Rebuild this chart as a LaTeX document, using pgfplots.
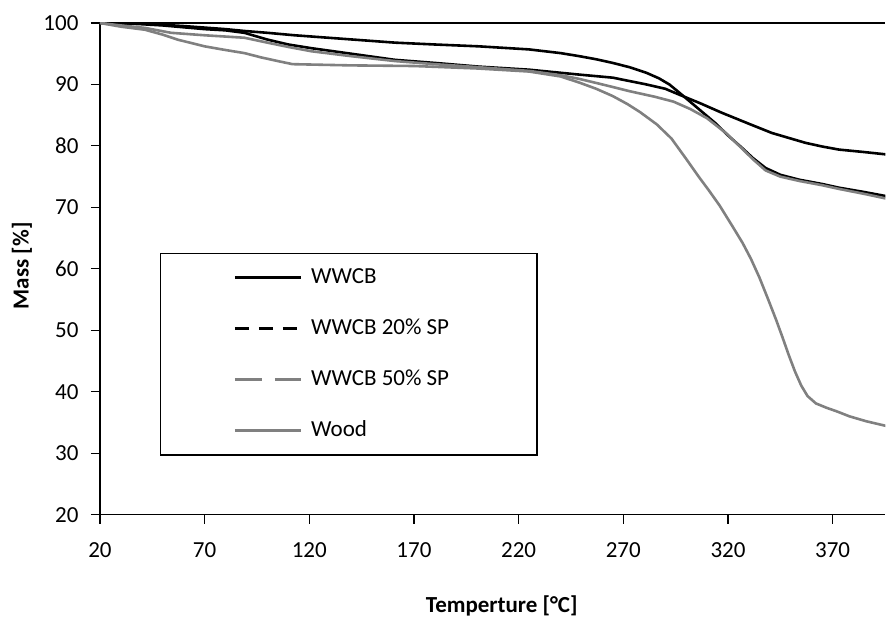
\documentclass[border=0pt]{standalone}
\usepackage{fontspec}
\setmainfont{Carlito}
\usepackage{pgfplots}
\usepackage{pgfplotstable}
\pgfplotsset{compat=1.18}
\definecolor{curvegray}{RGB}{128,128,128}

% temperature [C]  mass [%]
\pgfplotstableread{
T m
20 100
30 99.95
40 99.8
50 99.6
60 99.3
70 99.0
80 98.8
89 98.4
100 97.3
110 96.5
121 95.9
140 95.0
161 94.0
180 93.5
201 92.9
225 92.4
249 91.6
265 91.1
281 90.0
290 89.3
297 88.3
307 86.9
317 85.4
330 83.6
341 82.1
350 81.2
357 80.5
365 79.9
373 79.4
385 79.0
396 78.6
}\wwcb

\pgfplotstableread{
T m
20 100
40 99.9
60 99.5
80 99.0
89 98.7
100 98.4
113 98.0
137 97.4
161 96.8
180 96.5
201 96.2
225 95.7
240 95.1
249 94.6
257 94.1
265 93.5
273 92.8
281 91.9
287 91.0
292 90.0
297 88.6
305 86.3
314 83.7
320 81.7
326 79.9
332 78.0
338 76.4
345 75.3
354 74.5
365 73.8
373 73.2
385 72.5
396 71.8
}\wwcbtwenty

\pgfplotstableread{
T m
20 100
30 99.6
41.5 99.2
54 98.4
70 98.0
89 97.6
100 96.8
110 96.1
121 95.4
140 94.6
161 93.8
180 93.3
201 92.8
225 92.2
240 91.5
249 90.9
260 90.0
273 88.9
285 88.0
294 87.2
302 86.0
310 84.5
319 82.1
326 79.8
332 77.8
338 76.0
345 75.0
354 74.3
365 73.6
373 73.0
385 72.2
396 71.4
}\wwcbfifty

\pgfplotstableread{
T m
20 100
30 99.4
41.5 98.9
50 98.1
57 97.3
70 96.2
80 95.6
89 95.1
97 94.4
105 93.8
112 93.3
140 93.1
170 93.0
200 92.6
225 92.1
240 91.3
249 90.3
257 89.3
265 88.1
272 86.8
278 85.5
286 83.5
293 81.2
300 77.9
306 75.0
311 72.7
316 70.3
322 67.0
327 64.2
331 61.6
335 58.6
339 55.2
343 51.7
346 48.9
349 46.0
352 43.3
355 41.0
358 39.3
362 38.1
367 37.4
372 36.8
378 36.0
386 35.2
396 34.4
}\wood

\begin{document}
\begin{tikzpicture}
\begin{axis}[
    scale only axis,
    width=786pt, height=492pt,
    xmin=20, xmax=395.2,
    ymin=20, ymax=100,
    xtick={20,70,...,370},
    ytick={20,30,...,100},
    axis x line*=bottom,
    axis y line*=left,
    axis line style={black, line width=1.2pt},
    tick align=outside,
    major tick length=9pt,
    tick style={black, line width=1.2pt},
    font=\fontsize{23}{27}\selectfont,
    /pgf/number format/assume math mode=true,
    xticklabel style={yshift=-15pt},
    yticklabel style={xshift=-9pt},
    extra y ticks={100},
    extra y tick labels={},
    extra y tick style={grid=major, major grid style={black, line width=1.2pt}},
    xlabel={\textbf{Temperture [°C]}},
    ylabel={\textbf{Mass [\%]}},
    xlabel style={at={(rel axis cs:0.5115,0)}, anchor=base, yshift=-98pt},
    ylabel style={at={(rel axis cs:-0.0992,0.506)}, anchor=center},
    legend cell align=left,
    legend image code/.code={\draw[#1, line width=2.8pt] (0pt,0pt) -- (66pt,0pt);},
    legend style={at={(0.0763,0.533)}, anchor=north west, draw=black,
        line width=1.2pt, fill=white, inner xsep=73pt, inner ysep=14pt,
        row sep=30pt, column sep=9pt,
        nodes={inner sep=0pt, text height=16pt, text depth=5pt},
        font=\fontsize{23}{27}\selectfont},
]
\addlegendimage{black}
\addlegendentry{WWCB}
\addlegendimage{black, dash pattern=on 14pt off 10pt}
\addlegendentry{WWCB 20\% SP\rule{15pt}{0pt}}
\addlegendimage{curvegray, dash pattern=on 27pt off 13pt}
\addlegendentry{WWCB 50\% SP}
\addlegendimage{curvegray}
\addlegendentry{Wood}

\addplot[forget plot, black, line width=2.6pt] table[x=T, y=m] {\wwcb};
\addplot[forget plot, black, line width=2.6pt] table[x=T, y=m] {\wwcbtwenty};
\addplot[forget plot, curvegray, line width=2.6pt] table[x=T, y=m] {\wwcbfifty};
\addplot[forget plot, curvegray, line width=2.6pt] table[x=T, y=m] {\wood};
\end{axis}
\path ([shift={(-100pt,-104pt)}]current axis.south west) rectangle ([shift={(0pt,23pt)}]current axis.north east);
\end{tikzpicture}
\end{document}
